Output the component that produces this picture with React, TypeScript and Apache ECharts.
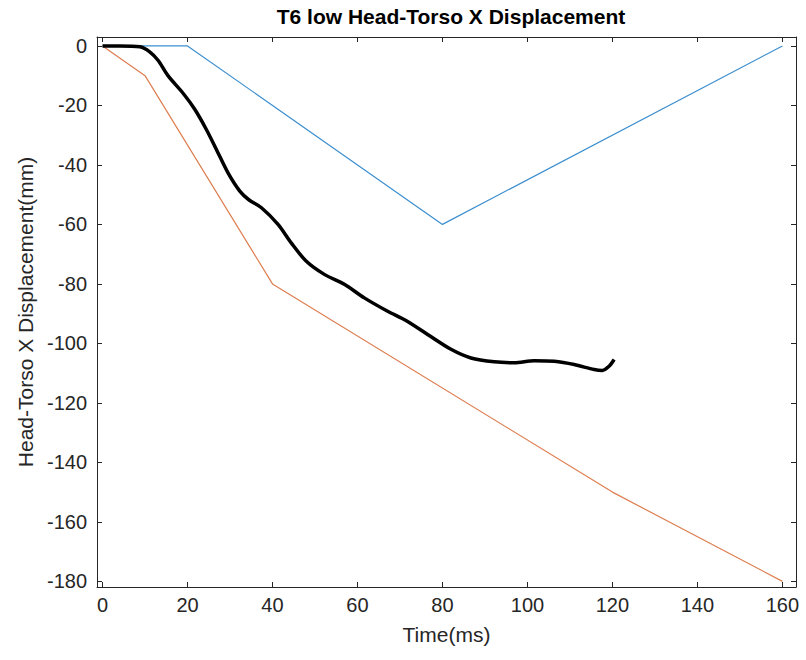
import React, { useEffect, useRef } from "react";
import * as echarts from "echarts";

const TITLE = "T6 low Head-Torso X Displacement";
const X_NAME = "Time(ms)";
const Y_NAME = "Head-Torso X Displacement(mm)";

const xTicks = [0, 20, 40, 60, 80, 100, 120, 140, 160];
const yTicks = [0, -20, -40, -60, -80, -100, -120, -140, -160, -180];

const blueLine: [number, number][] = [
  [0, 0], [20, 0], [80, -60], [160, 0],
];
const orangeLine: [number, number][] = [
  [0, 0], [10, -10], [40, -80], [120, -150], [160, -180],
];
const blackLine: [number, number][] = [
  [0, 0], [4, 0], [8.8, -0.3], [11.1, -2], [13.1, -4.9], [15.4, -10], [19, -16],
  [21.7, -21.3], [24.4, -28], [26.8, -34.8], [29.5, -42.6], [32.3, -48.8],
  [34.5, -51.8], [37.4, -54.4], [41.3, -60], [44.4, -66.2], [47.9, -72.3],
  [52.2, -76.8], [57, -80.2], [61.6, -84.7], [67.1, -89.2], [71.5, -92.4],
  [76.5, -97], [82, -102], [86.7, -104.9], [92.2, -106.2], [96.9, -106.5],
  [101.6, -105.8], [106.3, -106], [111, -107.1], [115.7, -108.8],
  [117.6, -109.1], [119.2, -107.7], [120.4, -105.4],
];

const FONT = "'Liberation Sans', Arial, Helvetica, sans-serif";
const AXIS_COLOR = "#262626";

export default function App() {
  const ref = useRef<HTMLDivElement>(null);
  useEffect(() => {
    if (!ref.current) return;
    const chart = echarts.init(ref.current, undefined, { renderer: "svg" });
    const xMin = -1.3, xMax = 163.2, yMin = -181.9, yMax = 3;
    const axisLine = { show: true, onZero: false, lineStyle: { color: AXIS_COLOR, width: 1 } };
    const tick = (vals: number[]) => ({
      show: true, inside: true, length: 5, customValues: vals,
      lineStyle: { color: AXIS_COLOR, width: 1 },
    });
    chart.setOption({
      animation: false,
      backgroundColor: "#ffffff",
      title: {
        text: TITLE, left: 446, top: 1, textAlign: "center",
        textStyle: { fontFamily: FONT, fontSize: 21, fontWeight: "bold", color: "#000" },
      },
      grid: { left: 97, right: 10, top: 37, bottom: 73, containLabel: false },
      xAxis: [
        {
          type: "value", position: "bottom", min: xMin, max: xMax,
          axisLine, axisTick: tick(xTicks), splitLine: { show: false },
          axisLabel: {
            customValues: xTicks, margin: 8, color: AXIS_COLOR,
            fontFamily: FONT, fontSize: 20,
          },
          name: X_NAME, nameLocation: "middle", nameGap: 37,
          nameTextStyle: { fontFamily: FONT, fontSize: 21, color: AXIS_COLOR },
        },
        {
          type: "value", position: "top", min: xMin, max: xMax,
          axisLine, axisTick: tick(xTicks), splitLine: { show: false },
          axisLabel: { show: false },
        },
      ],
      yAxis: [
        {
          type: "value", position: "left", min: yMin, max: yMax,
          axisLine, axisTick: tick(yTicks), splitLine: { show: false },
          axisLabel: {
            customValues: yTicks, margin: 10, color: AXIS_COLOR,
            fontFamily: FONT, fontSize: 20,
          },
          name: Y_NAME, nameLocation: "middle", nameGap: 60,
          nameTextStyle: { fontFamily: FONT, fontSize: 21, color: AXIS_COLOR },
        },
        {
          type: "value", position: "right", min: yMin, max: yMax,
          axisLine, axisTick: tick(yTicks), splitLine: { show: false },
          axisLabel: { show: false },
        },
      ],
      series: [
        {
          type: "line", data: blueLine, showSymbol: false, symbol: "none",
          lineStyle: { color: "#3d8fcf", width: 1.2 }, z: 2,
        },
        {
          type: "line", data: orangeLine, showSymbol: false, symbol: "none",
          lineStyle: { color: "#dd7e50", width: 1.2 }, z: 2,
        },
        {
          type: "line", data: blackLine, showSymbol: false, symbol: "none",
          smooth: 0.3,
          lineStyle: { color: "#000000", width: 3.5 }, z: 3,
        },
      ],
    });
    return () => chart.dispose();
  }, []);
  return <div ref={ref} style={{ width: 806, height: 660, position: "absolute", left: 0, top: 0 }} />;
}
